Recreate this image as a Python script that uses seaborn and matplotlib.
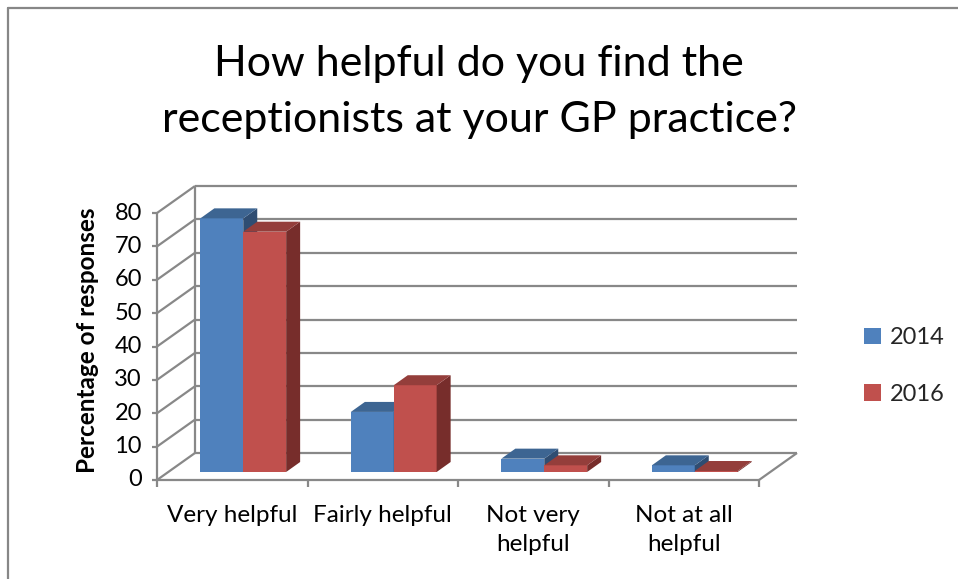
import numpy as np
import pandas as pd
import matplotlib
matplotlib.use("Agg")
import matplotlib.pyplot as plt
import seaborn as sns
from matplotlib.patches import Polygon, Patch
from matplotlib.lines import Line2D

# ---------------- data ----------------
categories = ["Very helpful", "Fairly helpful", "Not very\nhelpful", "Not at all\nhelpful"]
years = ["2014", "2016"]
values_2014 = [76, 18, 4, 2]
values_2016 = [72, 26, 2, 0.3]
y_ticks = [0, 10, 20, 30, 40, 50, 60, 70, 80]
title = "How helpful do you find the\nreceptionists at your GP practice?"
y_label = "Percentage of responses"

df = pd.DataFrame({
    "category": categories * 2,
    "year": [years[0]] * len(categories) + [years[1]] * len(categories),
    "value": values_2014 + values_2016,
})

# ---------------- style ----------------
sns.set_theme(style="white")
plt.rcParams["font.family"] = ["Lato", "DejaVu Sans"]

W, H = 958, 579
fig = plt.figure(figsize=(W / 100, H / 100), dpi=100)
fig.patch.set_facecolor("white")

def fx(px):
    return px / W

def fy(py):
    return 1 - py / H

front_cols = {"2014": "#4F81BD", "2016": "#C0504D"}
top_cols = {"2014": "#3D6592", "2016": "#943E3B"}
side_cols = {"2014": "#2F4D72", "2016": "#772D2B"}
grid_col = "#888888"

# plane axes (mid-depth plane where bars sit)
left_px, right_px, bot_px, top_px = 168, 770, 472, 205
ax = fig.add_axes([fx(left_px), fy(bot_px), (right_px - left_px) / W, (bot_px - top_px) / H])

xu = (right_px - left_px) / 4.0      # px per category
yu = (bot_px - top_px) / 80.0        # px per unit
fdx, fdy = -11 / xu, -8 / yu         # front offset
bdx, bdy = 27 / xu, 19 / yu          # back offset
ddx, ddy = 14 / xu, 10 / yu          # bar depth

sns.barplot(data=df, x="category", y="value", hue="year", order=categories,
            hue_order=years, palette=[front_cols[y] for y in years],
            width=0.57, saturation=1, ax=ax, legend=False, edgecolor="none",
            linewidth=0)
ax.set_xlim(-0.5, 3.5)
ax.set_ylim(0, 80)
ax.axis("off")

lkw = dict(color=grid_col, lw=1.6, clip_on=False, solid_capstyle="butt")
x0, x1 = -0.5, 3.5
# back wall gridlines + left wall diagonals
for t in y_ticks:
    ax.plot([x0 + bdx, x1 + bdx], [t + bdy, t + bdy], zorder=0.5, **lkw)
    ax.plot([x0 + fdx, x0 + bdx], [t + fdy, t + bdy], zorder=0.5, **lkw)
    ax.plot([x0 + fdx - 5 / xu, x0 + fdx], [t + fdy, t + fdy], zorder=0.5, **lkw)
    ax.text(x0 + fdx - 15 / xu, t + fdy, str(t), ha="right", va="center",
            fontsize=17, color="black", clip_on=False)
# back-left vertical, front vertical axis
ax.plot([x0 + bdx, x0 + bdx], [bdy, 80 + bdy], zorder=0.5, **lkw)
ax.plot([x0 + fdx, x0 + fdx], [fdy, 80 + fdy], zorder=0.5, **lkw)
# floor
ax.plot([x0 + fdx, x1 + fdx], [fdy, fdy], zorder=0.5, **lkw)
ax.plot([x1 + fdx, x1 + bdx], [fdy, bdy], zorder=0.5, **lkw)
for i in range(len(categories) + 1):
    xx = i - 0.5 + fdx
    ax.plot([xx, xx], [fdy, fdy - 7 / yu], zorder=0.5, **lkw)
for i, c in enumerate(categories):
    ax.text(i + fdx, fdy - 25 / yu, c, ha="center", va="top", fontsize=17.5,
            color="black", linespacing=1.45, clip_on=False)

# 3D sides and tops of bars
for p in list(ax.patches):
    fc = matplotlib.colors.to_hex(p.get_facecolor())
    yr = [y for y in years if front_cols[y].lower() == fc.lower()]
    if not yr:
        continue
    yr = yr[0]
    z = 2 + years.index(yr)
    p.set_zorder(z)
    bx, bw, bh = p.get_x(), p.get_width(), p.get_height()
    side = Polygon([(bx + bw, 0), (bx + bw + ddx, ddy), (bx + bw + ddx, bh + ddy), (bx + bw, bh)],
                   closed=True, facecolor=side_cols[yr], edgecolor="none", zorder=z, clip_on=False)
    top = Polygon([(bx, bh), (bx + bw, bh), (bx + bw + ddx, bh + ddy), (bx + ddx, bh + ddy)],
                  closed=True, facecolor=top_cols[yr], edgecolor="none", zorder=z, clip_on=False)
    ax.add_patch(side)
    ax.add_patch(top)

# y label
fig.text(fx(88), fy(340), y_label, rotation=90, ha="center", va="center",
         fontsize=17.5, fontweight="bold", color="black")

# title
fig.text(0.5, fy(92), title, ha="center", va="center", fontsize=31,
         color="black", linespacing=1.55)

# legend
handles = [Patch(facecolor=front_cols[y], edgecolor="none") for y in years]
fig.legend(handles, years, loc="center left", bbox_to_anchor=(fx(843), fy(366)),
           frameon=False, handlelength=0.7, handleheight=0.7, handletextpad=0.4,
           labelspacing=1.5, fontsize=17)

# chart border
fig.add_artist(Line2D([fx(7.5), fx(7.5)], [fy(579), fy(7.5)], color="#878787", lw=1.6,
                      transform=fig.transFigure))
fig.add_artist(Line2D([fx(7.5), fx(958)], [fy(7.5), fy(7.5)], color="#878787", lw=1.6,
                      transform=fig.transFigure))

fig.savefig("out.png", dpi=100)
